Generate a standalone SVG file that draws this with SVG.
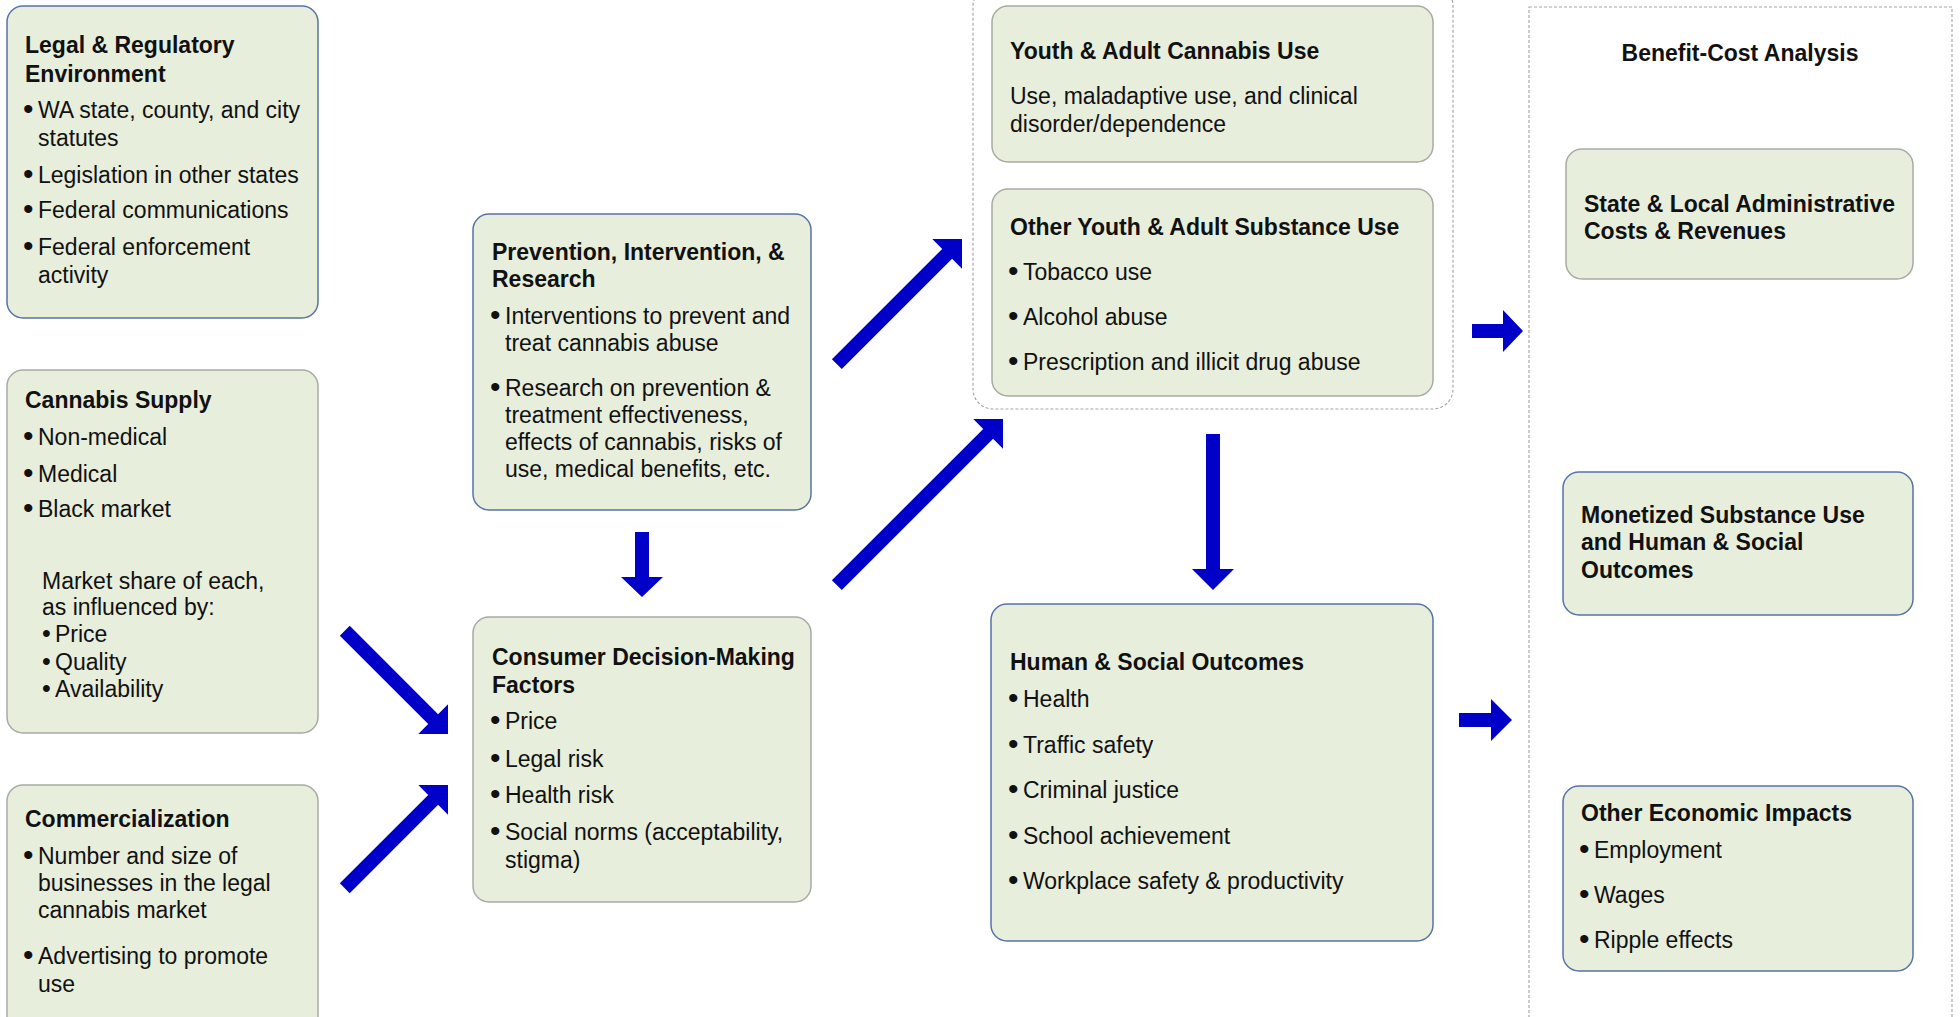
<svg xmlns="http://www.w3.org/2000/svg" width="1960" height="1017" viewBox="0 0 1960 1017">
<style>
text{font-family:"Liberation Sans",Arial,Helvetica,sans-serif;font-size:23px;fill:#111}
.b{font-weight:bold}
.u{font-size:30px}
.s{font-size:25px}
.box{fill:#e8eedc;stroke-width:1.5}
.bl{stroke:#5673a8}
.gr{stroke:#a9aaa4}
.dash{fill:none;stroke:#a8a8a8;stroke-width:1.2;stroke-dasharray:3 2}
.arr{fill:#0000c8}
</style>
<rect width="1960" height="1017" fill="#ffffff"/>

<g id="containers">
<rect id="use-group" class="dash" x="973" y="-14" width="480" height="423" rx="20"/>
<rect id="benefit-cost" class="dash" x="1529" y="7" width="423" height="1030"/>
<text class="b" x="1740" y="61" text-anchor="middle">Benefit-Cost Analysis</text>
</g>

<g id="legal">
<rect class="box bl" x="7" y="6" width="311" height="312" rx="16"/>
<text class="b" x="25" y="53">Legal &amp; Regulatory</text>
<text class="b" x="25" y="82">Environment</text>
<text class="u" x="23" y="119">•</text><text x="38" y="118">WA state, county, and city</text>
<text x="38" y="146">statutes</text>
<text class="u" x="23" y="184">•</text><text x="38" y="183">Legislation in other states</text>
<text class="u" x="23" y="219">•</text><text x="38" y="218">Federal communications</text>
<text class="u" x="23" y="256">•</text><text x="38" y="255">Federal enforcement</text>
<text x="38" y="283">activity</text>
</g>

<g id="supply">
<rect class="box gr" x="7" y="370" width="311" height="363" rx="16"/>
<text class="b" x="25" y="408">Cannabis Supply</text>
<text class="u" x="23" y="446">•</text><text x="38" y="445">Non-medical</text>
<text class="u" x="23" y="483">•</text><text x="38" y="482">Medical</text>
<text class="u" x="23" y="518">•</text><text x="38" y="517">Black market</text>
<text x="42" y="589">Market share of each,</text>
<text x="42" y="615">as influenced by:</text>
<text class="s" x="42" y="642">•</text><text x="55" y="642">Price</text>
<text class="s" x="42" y="670">•</text><text x="55" y="670">Quality</text>
<text class="s" x="42" y="697">•</text><text x="55" y="697">Availability</text>
</g>

<g id="commercialization">
<rect class="box gr" x="7" y="785" width="311" height="260" rx="16"/>
<text class="b" x="25" y="827">Commercialization</text>
<text class="u" x="23" y="865">•</text><text x="38" y="864">Number and size of</text>
<text x="38" y="891">businesses in the legal</text>
<text x="38" y="918">cannabis market</text>
<text class="u" x="23" y="965">•</text><text x="38" y="964">Advertising to promote</text>
<text x="38" y="992">use</text>
</g>

<g id="prevention">
<rect class="box bl" x="473" y="214" width="338" height="296" rx="16"/>
<text class="b" x="492" y="260">Prevention, Intervention, &amp;</text>
<text class="b" x="492" y="287">Research</text>
<text class="u" x="490" y="325">•</text><text x="505" y="324">Interventions to prevent and</text>
<text x="505" y="351">treat cannabis abuse</text>
<text class="u" x="490" y="397">•</text><text x="505" y="396">Research on prevention &amp;</text>
<text x="505" y="423">treatment effectiveness,</text>
<text x="505" y="450">effects of cannabis, risks of</text>
<text x="505" y="477">use, medical benefits, etc.</text>
</g>

<g id="consumer">
<rect class="box gr" x="473" y="617" width="338" height="285" rx="16"/>
<text class="b" x="492" y="665">Consumer Decision-Making</text>
<text class="b" x="492" y="693">Factors</text>
<text class="u" x="490" y="730">•</text><text x="505" y="729">Price</text>
<text class="u" x="490" y="768">•</text><text x="505" y="767">Legal risk</text>
<text class="u" x="490" y="804">•</text><text x="505" y="803">Health risk</text>
<text class="u" x="490" y="841">•</text><text x="505" y="840">Social norms (acceptability,</text>
<text x="505" y="868">stigma)</text>
</g>

<g id="cannabis-use">
<rect class="box gr" x="992" y="6" width="441" height="156" rx="16"/>
<text class="b" x="1010" y="59">Youth &amp; Adult Cannabis Use</text>
<text x="1010" y="104">Use, maladaptive use, and clinical</text>
<text x="1010" y="132">disorder/dependence</text>
</g>

<g id="other-substance">
<rect class="box gr" x="992" y="189" width="441" height="207" rx="16"/>
<text class="b" x="1010" y="235">Other Youth &amp; Adult Substance Use</text>
<text class="u" x="1008" y="281">•</text><text x="1023" y="280">Tobacco use</text>
<text class="u" x="1008" y="326">•</text><text x="1023" y="325">Alcohol abuse</text>
<text class="u" x="1008" y="371">•</text><text x="1023" y="370">Prescription and illicit drug abuse</text>
</g>

<g id="outcomes">
<rect class="box bl" x="991" y="604" width="442" height="337" rx="16"/>
<text class="b" x="1010" y="670">Human &amp; Social Outcomes</text>
<text class="u" x="1008" y="708">•</text><text x="1023" y="707">Health</text>
<text class="u" x="1008" y="754">•</text><text x="1023" y="753">Traffic safety</text>
<text class="u" x="1008" y="799">•</text><text x="1023" y="798">Criminal justice</text>
<text class="u" x="1008" y="845">•</text><text x="1023" y="844">School achievement</text>
<text class="u" x="1008" y="890">•</text><text x="1023" y="889">Workplace safety &amp; productivity</text>
</g>

<g id="admin-costs">
<rect class="box gr" x="1566" y="149" width="347" height="130" rx="16"/>
<text class="b" x="1584" y="212">State &amp; Local Administrative</text>
<text class="b" x="1584" y="239">Costs &amp; Revenues</text>
</g>

<g id="monetized">
<rect class="box bl" x="1563" y="472" width="350" height="143" rx="16"/>
<text class="b" x="1581" y="523">Monetized Substance Use</text>
<text class="b" x="1581" y="550">and Human &amp; Social</text>
<text class="b" x="1581" y="578">Outcomes</text>
</g>

<g id="economic">
<rect class="box bl" x="1563" y="786" width="350" height="185" rx="16"/>
<text class="b" x="1581" y="821">Other Economic Impacts</text>
<text class="u" x="1579" y="859">•</text><text x="1594" y="858">Employment</text>
<text class="u" x="1579" y="904">•</text><text x="1594" y="903">Wages</text>
<text class="u" x="1579" y="949">•</text><text x="1594" y="948">Ripple effects</text>
</g>

<g id="connectors">
<path class="arr" transform="translate(448,734) rotate(45)" d="M0,0 L-21,-21 L-21,-7 L-146,-7 L-146,7 L-21,7 L-21,21 Z"/>
<path class="arr" transform="translate(448,785) rotate(-45)" d="M0,0 L-21,-21 L-21,-7 L-146,-7 L-146,7 L-21,7 L-21,21 Z"/>
<path class="arr" transform="translate(642,597) rotate(90)" d="M0,0 L-20,-21 L-20,-7 L-65,-7 L-65,7 L-20,7 L-20,21 Z"/>
<path class="arr" transform="translate(962,239) rotate(-45)" d="M0,0 L-21,-21 L-21,-7 L-177,-7 L-177,7 L-21,7 L-21,21 Z"/>
<path class="arr" transform="translate(1003,419) rotate(-45)" d="M0,0 L-21,-21 L-21,-7 L-235,-7 L-235,7 L-21,7 L-21,21 Z"/>
<path class="arr" transform="translate(1213,590) rotate(90)" d="M0,0 L-21,-21 L-21,-7 L-156,-7 L-156,7 L-21,7 L-21,21 Z"/>
<path class="arr" transform="translate(1523,331) rotate(0)" d="M0,0 L-20,-21 L-20,-7 L-51,-7 L-51,7 L-20,7 L-20,21 Z"/>
<path class="arr" transform="translate(1512,720) rotate(0)" d="M0,0 L-21,-21 L-21,-7 L-53,-7 L-53,7 L-21,7 L-21,21 Z"/>
</g>
</svg>
